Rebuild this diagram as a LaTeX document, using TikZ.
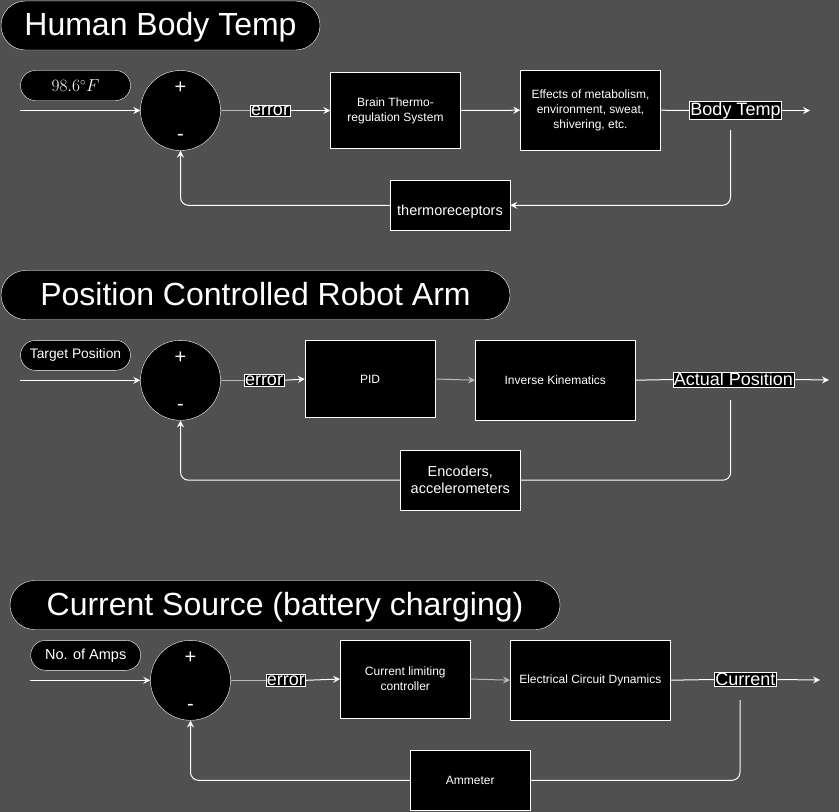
\documentclass[tikz,border=0pt]{standalone}
\usepackage{fontspec}
\setmainfont{Liberation Sans}
\usetikzlibrary{arrows.meta}
\definecolor{bg}{RGB}{80,80,80}
\definecolor{soft}{RGB}{185,185,185}
\newcommand{\fsz}[2]{\fontsize{#1}{#2}\selectfont}
\begin{document}
\begin{tikzpicture}[x=1pt,y=-1pt,
  title/.style={draw=white,fill=black,text=white,rounded corners=24.5pt,minimum height=49pt,inner sep=0pt,font=\fsz{32}{37},text height=22pt,text depth=2pt},
  pill/.style={draw=white,fill=black,text=white,rounded corners=15pt,minimum width=110pt,minimum height=30pt,inner sep=0pt},
  sumnode/.style={circle,draw=white,fill=black,minimum size=80pt,inner sep=0pt},
  sign/.style={text=white,font=\fsz{20}{22},inner sep=0pt},
  blk/.style={draw=white,fill=black,text=white,align=center,inner sep=0pt,font=\fsz{12}{15}},
  mblk/.style={blk,font=\fsz{14.5}{17}},
  lbl/.style={draw=white,fill=black,text=white,inner sep=0.8pt,font=\fsz{18}{20}},
  wire/.style={draw=white,line width=1pt},
  arr/.style={wire,-{Stealth[length=7pt,width=7pt,inset=2.5pt]}},
  softarr/.style={arr,draw=soft},
  errwire/.style={draw=soft,line width=1.6pt},
  fb/.style={rounded corners=8pt},
]
\fill[bg] (0,0) rectangle (839,812);
\useasboundingbox (0,0) rectangle (839,812);

% ---------------- Human Body Temp ----------------
\node[title,minimum width=319pt] (t1) at (160.5,25.5) {Human Body Temp};
\node[pill] (p1) at (75.5,85.5) {\fsz{16}{18}$98.6^\circ F$};
\node[sumnode] (sum1) at (180.5,110.5) {};
\node[sign] (pl1) at (180.5,88) {+};
\node[sign] (mi1) at (180.5,137) {-};
\node[lbl] (e1) at (270,110.5) {error};
\node[blk,minimum width=130pt,minimum height=76pt] (b1) at (395.5,110.5) {Brain Thermo-\\regulation System};
\node[blk,minimum width=140pt,minimum height=80pt] (ef1) at (590.5,110.2) {Effects of metabolism,\\environment, sweat,\\shivering, etc.};
\node[lbl] (bt1) at (735.5,110.5) {Body Temp};
\node[mblk,minimum width=120pt,minimum height=50pt,text height=21pt,text depth=0pt] (th1) at (450,205.3) {thermoreceptors};
\coordinate (in1) at (20,110.5);
\coordinate (o1) at (810,110.5);
\coordinate (f1) at (730.5,130);
\draw[arr] (in1) -- (sum1.west);
\draw[errwire] (sum1.east) -- (e1.west);
\draw[arr] (e1.east) -- (b1.west);
\draw[arr] (b1.east) -- (ef1.west);
\draw[wire] (ef1.east) -- (bt1.west);
\draw[arr] (bt1.east) -- (o1);
\draw[arr,fb] (f1) |- (th1.east);
\draw[arr,fb] (th1.west) -| (sum1.south);

% ---------------- Position Controlled Robot Arm ----------------
\node[title,minimum width=509pt] (t2) at (255.5,295) {Position Controlled Robot Arm};
\node[pill,font=\fsz{13.8}{15}] (p2) at (75.5,355.3) {Target Position};
\node[sumnode] (sum2) at (180.5,380.3) {};
\node[sign] (pl2) at (180.5,358) {+};
\node[sign] (mi2) at (180.5,407) {-};
\node[lbl] (e2) at (264,380.3) {error};
\node[blk,minimum width=130pt,minimum height=77pt] (pid) at (370,379) {PID};
\node[blk,minimum width=160pt,minimum height=80pt] (ik) at (555.3,380.2) {Inverse Kinematics};
\node[lbl] (ap) at (733.5,379.5) {Actual Position};
\node[mblk,minimum width=120pt,minimum height=60pt] (enc) at (460.3,480.2) {Encoders,\\accelerometers};
\coordinate (in2) at (20,380.3);
\coordinate (o2) at (829,380);
\coordinate (f2) at (730.7,400);
\draw[arr] (in2) -- (sum2.west);
\draw[errwire] (sum2.east) -- (e2.west);
\draw[arr] (e2.east) -- (pid.west);
\draw[softarr] (pid.east) -- (ik.west);
\draw[wire] (ik.east) -- (ap.west);
\draw[arr] (ap.east) -- (o2);
\draw[wire,fb] (f2) |- (enc.east);
\draw[arr,fb] (enc.west) -| (sum2.south);

% ---------------- Current Source ----------------
\node[title,minimum width=550pt] (t3) at (285,605) {Current Source (battery charging)};
\node[pill,font=\fsz{14.5}{16}] (p3) at (85.7,655.3) {No. of Amps};
\node[sumnode] (sum3) at (190.5,680.3) {};
\node[sign] (pl3) at (190.5,658) {+};
\node[sign] (mi3) at (190.5,707) {-};
\node[lbl] (e3) at (285.8,680.3) {error};
\node[blk,minimum width=130pt,minimum height=78pt] (cl) at (405.3,679) {Current limiting\\controller};
\node[blk,minimum width=160pt,minimum height=80pt] (ecd) at (590.3,680.2) {Electrical Circuit Dynamics};
\node[lbl] (cur) at (745.3,679.5) {Current};
\node[blk,minimum width=120pt,minimum height=60pt] (amm) at (470.3,780.3) {Ammeter};
\coordinate (in3) at (30,680.3);
\coordinate (o3) at (820,680);
\coordinate (f3) at (740,700);
\draw[arr] (in3) -- (sum3.west);
\draw[errwire] (sum3.east) -- (e3.west);
\draw[arr] (e3.east) -- (cl.west);
\draw[softarr] (cl.east) -- (ecd.west);
\draw[wire] (ecd.east) -- (cur.west);
\draw[arr] (cur.east) -- (o3);
\draw[wire,fb] (f3) |- (amm.east);
\draw[arr,fb] (amm.west) -| (sum3.south);
\end{tikzpicture}
\end{document}
